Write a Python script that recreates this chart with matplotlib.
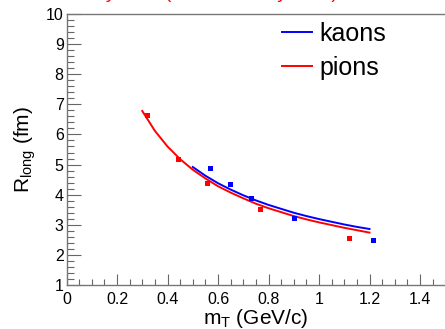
import numpy as np
import matplotlib.pyplot as plt
from matplotlib.ticker import MultipleLocator

plt.rcParams['font.family'] = ['Liberation Sans', 'DejaVu Sans']
plt.rcParams['mathtext.fontset'] = 'custom'
plt.rcParams['mathtext.rm'] = 'Liberation Sans'
plt.rcParams['mathtext.it'] = 'Liberation Sans'

# measured points
pion_mt = [0.318, 0.440, 0.558, 0.766, 1.120]
pion_r = [6.64, 5.17, 4.39, 3.53, 2.56]
kaon_mt = [0.568, 0.646, 0.731, 0.902, 1.215]
kaon_r = [4.87, 4.34, 3.90, 3.23, 2.49]

# fit curves, every 0.05
pion_fit_mt = [0.30, 0.35, 0.40, 0.45, 0.50, 0.55, 0.60, 0.65, 0.70, 0.75,
               0.80, 0.85, 0.90, 0.95, 1.00, 1.05, 1.10, 1.15, 1.20]
pion_fit_r = [6.78, 6.12, 5.60, 5.18, 4.83, 4.54, 4.28, 4.07, 3.88, 3.70,
              3.55, 3.42, 3.29, 3.18, 3.08, 2.99, 2.90, 2.82, 2.74]
kaon_fit_mt = [0.50, 0.55, 0.60, 0.65, 0.70, 0.75, 0.80, 0.85,
               0.90, 0.95, 1.00, 1.05, 1.10, 1.15, 1.20]
kaon_fit_r = [4.92, 4.63, 4.38, 4.17, 3.98, 3.81, 3.66, 3.53,
              3.40, 3.29, 3.19, 3.10, 3.01, 2.93, 2.86]

fig = plt.figure(figsize=(4.45, 3.29), dpi=100)
ax = fig.add_axes([66.5/445, 44/329, 378.75/445, 271/329])

ax.plot(kaon_fit_mt, kaon_fit_r, color='#0000ff', lw=1.4, label='kaons')
ax.plot(pion_fit_mt, pion_fit_r, color='#ff0000', lw=1.4, label='pions')
ax.plot(pion_mt, pion_r, 's', color='#ff0000', ms=3.6, mew=0)
ax.plot(kaon_mt, kaon_r, 's', color='#0000ff', ms=3.6, mew=0)

ax.set_xlim(0, 1.5)
ax.set_ylim(1, 10)
ax.xaxis.set_minor_locator(MultipleLocator(0.05))
ax.yaxis.set_major_locator(MultipleLocator(1))
ax.yaxis.set_minor_locator(MultipleLocator(0.2))
ax.set_xticks([0, 0.2, 0.4, 0.6, 0.8, 1.0, 1.2, 1.4])
ax.set_xticklabels(['0', '0.2', '0.4', '0.6', '0.8', '1', '1.2', '1.4'])
ax.tick_params(which='both', direction='in', top=False, right=False,
               color='#666666', width=0.8, labelsize=11.5)
ax.tick_params(axis='y', which='major', length=10, pad=2)
ax.tick_params(axis='y', which='minor', length=5)
ax.tick_params(axis='x', which='major', length=8, pad=5)
ax.tick_params(axis='x', which='minor', length=4)
for side in ['left', 'bottom', 'top']:
    ax.spines[side].set_color('#777777')
    ax.spines[side].set_linewidth(1)
ax.spines['right'].set_visible(False)

ax.set_xlabel(r'm$_{\mathrm{T}}$ (GeV/c)', fontsize=15, labelpad=0)
ax.set_ylabel(r'R$_{\mathrm{long}}$ (fm)', fontsize=15, labelpad=6)

ax.legend(loc='upper left', bbox_to_anchor=(0.569, 0.972), frameon=False,
          fontsize=18, handlelength=1.2, handletextpad=0.28, labelspacing=0.42,
          borderpad=0, borderaxespad=0)

# title sits above the canvas, only its descenders show
fig.text(0.0735, 1.006, 'Centrality data (Au+Au fits by HBT)', color='#ff0000',
         fontsize=14, va='baseline', ha='left')

fig.savefig('out.png', dpi=100)
